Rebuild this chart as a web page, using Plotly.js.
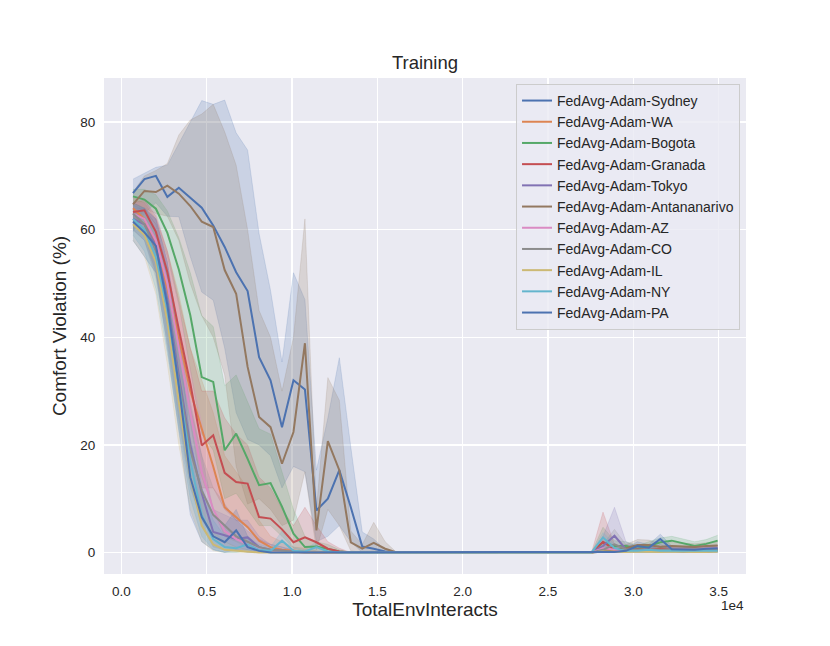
<!DOCTYPE html>
<html>
<head>
<meta charset="utf-8">
<script src="https://cdn.plot.ly/plotly-3.0.1.min.js"></script>
<style>html,body{margin:0;padding:0;background:#fff;}#chart{width:830px;height:646px;}</style>
</head>
<body>
<div id="chart"></div>
<script>
// x positions (TotalEnvInteracts)
var steps = [672,1344,2016,2688,3360,4032,4704,5376,6048,6720,7392,8064,8736,9408,10080,10752,11424,12096,12768,13440,14112,14784,15456,16128,16800,17472,18144,18816,19488,20160,20832,21504,22176,22848,23520,24192,24864,25536,26208,26880,27552,28224,28896,29568,30240,30912,31584,32256,32928,33600,34272,34944];

var seriesNames = ["FedAvg-Adam-Sydney","FedAvg-Adam-WA","FedAvg-Adam-Bogota","FedAvg-Adam-Granada","FedAvg-Adam-Tokyo","FedAvg-Adam-Antananarivo","FedAvg-Adam-AZ","FedAvg-Adam-CO","FedAvg-Adam-IL","FedAvg-Adam-NY","FedAvg-Adam-PA"];
var seriesColors = ["#4C72B0","#DD8452","#55A868","#C44E52","#8172B3","#937860","#DA8BC3","#8C8C8C","#CCB974","#64B5CD","#4C72B0"];

// Sydney
var sydneyMean  = [66.8,69.4,70.0,66.1,67.8,66.0,64.1,60.8,56.8,52.1,48.6,36.3,32.0,23.3,32.0,30.3,7.8,10.0,15.3,8.4,1.1,0.7,0.2,0, 0,0,0,0,0,0,0,0,0,0,0,0,0,0,0,0, 0,0.2,0.3,0.6,0.3,0.4,0.5,0.3,0.2,0.3,0.2,0.3];
var sydneyLow   = [59.6,63.0,65.0,62.5,62.4,55.0,48.4,46.9,38.0,26.0,21.0,20.0,18.0,12.0,16.0,15.0,2.0,3.0,5.0,2.0,0,0,0,0, 0,0,0,0,0,0,0,0,0,0,0,0,0,0,0,0, 0,0,0,0.1,0,0,0.1,0,0,0,0,0];
var sydneyHigh  = [69.4,70.5,71.6,72.0,76.0,80.0,84.0,83.3,84.1,78.0,74.8,59.3,48.7,35.4,52.0,47.0,15.3,25.0,36.2,19.6,3.8,2.5,0.5,0, 0,0,0,0,0,0,0,0,0,0,0,0,0,0,0,0, 0,0.5,0.8,1.4,0.8,0.9,1.2,0.8,0.5,0.7,0.5,0.7];
// WA
var waMean  = [64.0,62.0,57.0,49.0,40.0,30.0,23.0,16.0,8.4,6.6,4.7,2.2,1.0,0.5,0.3,0.2,0,0,0,0,0,0,0,0, 0,0,0,0,0,0,0,0,0,0,0,0,0,0,0,0, 0,0.6,0.3,0.3,0.4,0.3,0.4,0.3,0.3,0.4,0.4,0.5];
var waLow   = [62.0,59.0,52.0,42.0,32.0,21.0,14.0,8.0,3.0,2.0,1.0,0.3,0,0,0,0,0,0,0,0,0,0,0,0, 0,0,0,0,0,0,0,0,0,0,0,0,0,0,0,0, 0,0.1,0,0,0.1,0,0.1,0,0,0.1,0.1,0.1];
var waHigh  = [66.0,65.0,62.0,56.0,48.0,38.0,32.0,26.0,18.0,15.0,12.0,6.0,3.0,2.0,1.0,0.8,0.3,0,0,0,0,0,0,0, 0,0,0,0,0,0,0,0,0,0,0,0,0,0,0,0, 0,1.5,0.8,0.7,0.8,0.7,0.8,0.7,0.7,0.8,0.8,0.9];
// Bogota
var bogotaMean  = [66.2,65.6,63.9,59.4,52.6,44.1,32.6,31.7,19.0,22.1,17.4,12.5,12.9,8.5,3.5,1.0,1.1,0.7,0.2,0,0,0,0,0, 0,0,0,0,0,0,0,0,0,0,0,0,0,0,0,0, 0,1.9,1.2,1.2,0.7,1.2,1.9,2.2,1.7,1.2,1.6,2.2];
var bogotaLow   = [64.5,63.5,61.0,55.0,46.0,34.0,22.0,19.0,10.0,11.0,8.0,5.0,5.0,3.0,0.8,0.2,0.2,0,0,0,0,0,0,0, 0,0,0,0,0,0,0,0,0,0,0,0,0,0,0,0, 0,0.5,0.5,0.5,0.3,0.6,1.0,1.3,1.0,0.6,0.9,1.3];
var bogotaHigh  = [67.5,67.5,66.5,63.5,58.5,52.0,44.0,42.0,31.0,33.0,28.0,23.0,22.0,15.0,8.0,3.0,2.0,1.5,0.5,0,0,0,0,0, 0,0,0,0,0,0,0,0,0,0,0,0,0,0,0,0, 0,4.7,2.2,2.0,1.3,2.0,2.7,3.0,2.5,2.0,2.4,3.2];
// Granada
var granadaMean = [63.3,63.6,59.6,52.1,41.5,31.4,19.9,21.8,14.8,13.1,12.8,6.6,6.3,4.3,1.9,2.8,1.9,0.7,0.2,0,0,0,0,0, 0,0,0,0,0,0,0,0,0,0,0,0,0,0,0,0, 0,2.0,0.5,0.4,0.6,0.5,0.7,0.6,0.5,0.5,0.6,0.7];
var granadaLow  = [61.0,62.0,56.0,47.0,35.0,24.0,12.0,12.0,8.0,6.0,5.0,2.0,1.5,1.0,0,0.5,0,0,0,0,0,0,0,0, 0,0,0,0,0,0,0,0,0,0,0,0,0,0,0,0, 0,0,0.1,0.1,0.2,0.2,0.3,0.2,0.2,0.2,0.2,0.3];
var granadaHigh = [65.0,65.5,62.5,56.0,47.0,38.0,30.0,30.0,25.0,22.0,20.0,14.0,12.0,8.0,5.0,8.4,5.0,2.0,0.8,0,0,0,0,0, 0,0,0,0,0,0,0,0,0,0,0,0,0,0,0,0, 0,7.5,1.5,1.0,1.2,1.0,1.3,1.1,1.0,1.0,1.1,1.3];
// Tokyo
var tokyoMean = [62.0,61.0,57.0,47.0,33.0,20.0,11.0,3.8,3.2,2.5,2.8,1.0,0.5,0.3,0.2,0,0,0,0,0,0,0,0,0, 0,0,0,0,0,0,0,0,0,0,0,0,0,0,0,0, 0,1.2,3.1,0.6,0.4,0.5,0.4,0.6,0.5,0.5,0.4,0.5];
var tokyoLow  = [60.0,58.0,52.0,40.0,25.0,13.0,5.0,1.0,0.5,0.5,0.5,0,0,0,0,0,0,0,0,0,0,0,0,0, 0,0,0,0,0,0,0,0,0,0,0,0,0,0,0,0, 0,0.2,0.5,0.1,0.1,0.1,0.1,0.2,0.1,0.1,0.1,0.1];
var tokyoHigh = [64.0,64.0,62.0,54.0,41.0,28.0,18.0,8.0,7.0,6.0,6.0,3.0,1.5,1.0,0.5,0,0,0,0,0,0,0,0,0, 0,0,0,0,0,0,0,0,0,0,0,0,0,0,0,0, 0,3.0,8.4,2.0,1.0,1.0,0.8,1.2,1.0,1.0,0.8,1.0];
// Antananarivo
var antaMean = [64.7,67.2,67.0,68.2,66.7,64.4,61.5,60.5,52.5,48.1,34.5,25.2,23.3,16.5,22.4,38.9,4.1,20.7,15.3,1.9,0.7,1.8,0.7,0, 0,0,0,0,0,0,0,0,0,0,0,0,0,0,0,0, 0,0.3,0.5,0.8,1.4,1.4,1.0,1.2,1.1,1.0,1.2,1.3];
var antaLow  = [60.0,64.0,63.0,62.5,58.0,50.0,44.0,40.0,33.0,16.0,9.0,10.0,8.0,5.0,6.0,15.0,0.5,8.0,5.0,0.3,0,0.3,0,0, 0,0,0,0,0,0,0,0,0,0,0,0,0,0,0,0, 0,0,0.1,0.3,0.6,0.7,0.5,0.6,0.5,0.5,0.6,0.6];
var antaHigh = [67.0,70.0,71.0,72.3,77.6,80.4,81.5,83.3,78.2,72.0,60.0,45.0,40.0,30.0,40.0,62.0,8.0,32.5,28.3,4.0,1.5,5.6,2.0,0, 0,0,0,0,0,0,0,0,0,0,0,0,0,0,0,0, 0,0.8,1.0,1.5,2.4,2.3,1.6,1.9,1.8,1.6,1.8,2.0];
// AZ
var azMean = [63.0,62.0,58.0,50.0,38.0,26.0,15.0,8.0,4.0,2.5,1.5,0.8,0.3,0.2,0,0,0,0,0,0,0,0,0,0, 0,0,0,0,0,0,0,0,0,0,0,0,0,0,0,0, 0,0.8,0.5,0.3,0.4,0.5,0.4,0.5,0.6,0.6,0.7,0.8];
var azLow  = [61.0,59.0,53.0,43.0,30.0,18.0,8.0,3.0,1.0,0.5,0.2,0,0,0,0,0,0,0,0,0,0,0,0,0, 0,0,0,0,0,0,0,0,0,0,0,0,0,0,0,0, 0,0.1,0.1,0.1,0.1,0.1,0.1,0.1,0.2,0.2,0.2,0.3];
var azHigh = [65.0,65.0,63.0,56.0,46.0,34.0,24.0,15.0,9.0,6.0,4.0,2.5,1.5,1.0,0.5,0,0,0,0,0,0,0,0,0, 0,0,0,0,0,0,0,0,0,0,0,0,0,0,0,0, 0,2.0,1.2,0.8,0.9,1.0,0.9,1.0,1.1,1.2,1.3,1.4];
// CO
var coMean = [63.0,61.0,56.0,46.0,32.0,19.0,11.5,7.0,5.0,3.0,2.0,1.0,0.5,0.3,0.1,0,0,0,0,0,0,0,0,0, 0,0,0,0,0,0,0,0,0,0,0,0,0,0,0,0, 0,0.5,1.5,0.6,0.5,0.6,0.5,0.6,0.5,0.6,0.5,0.6];
var coLow  = [60.0,58.0,51.0,39.0,24.0,12.0,6.0,3.0,2.0,1.0,0.5,0.2,0,0,0,0,0,0,0,0,0,0,0,0, 0,0,0,0,0,0,0,0,0,0,0,0,0,0,0,0, 0,0.1,0.3,0.1,0.1,0.1,0.1,0.1,0.1,0.1,0.1,0.1];
var coHigh = [65.0,64.0,61.0,53.0,40.0,27.0,18.0,12.0,9.0,6.0,4.0,2.5,1.5,1.0,0.5,0,0,0,0,0,0,0,0,0, 0,0,0,0,0,0,0,0,0,0,0,0,0,0,0,0, 0,1.5,4.3,1.5,1.2,1.5,1.2,1.3,1.2,1.3,1.2,1.3];
// IL
var ilMean = [61.0,59.0,54.0,43.0,28.0,14.0,5.0,1.5,0.5,0.3,0.2,0,0,0,0,0,0,0,0,0,0,0,0,0, 0,0,0,0,0,0,0,0,0,0,0,0,0,0,0,0, 0,0.2,0.1,0.1,0.2,0.1,0.1,0.2,0.1,0.1,0.1,0.2];
var ilLow  = [58.0,55.0,48.0,35.0,20.0,8.0,2.0,0.3,0,0,0,0,0,0,0,0,0,0,0,0,0,0,0,0, 0,0,0,0,0,0,0,0,0,0,0,0,0,0,0,0, 0,0,0,0,0,0,0,0,0,0,0,0];
var ilHigh = [64.0,63.0,59.0,50.0,36.0,21.0,10.0,4.0,2.0,1.0,0.5,0,0,0,0,0,0,0,0,0,0,0,0,0, 0,0,0,0,0,0,0,0,0,0,0,0,0,0,0,0, 0,0.5,0.3,0.3,0.5,0.3,0.3,0.5,0.3,0.3,0.3,0.5];
// NY
var nyMean = [62.0,60.0,55.0,45.0,31.0,17.0,7.0,2.5,1.0,0.8,1.5,0.5,0.3,2.2,0.3,0.2,1.0,0.2,0,0,0,0,0,0, 0,0,0,0,0,0,0,0,0,0,0,0,0,0,0,0, 0,2.8,0.8,0.3,0.3,0.5,0.3,0.3,0.3,0.3,0.3,0.3];
var nyLow  = [59.0,56.0,49.0,37.0,23.0,10.0,3.0,0.5,0,0,0.3,0,0,0.5,0,0,0.2,0,0,0,0,0,0,0, 0,0,0,0,0,0,0,0,0,0,0,0,0,0,0,0, 0,0.8,0.2,0,0,0.1,0,0,0,0,0,0];
var nyHigh = [64.5,64.0,60.0,52.0,39.0,25.0,12.0,6.0,3.0,2.5,3.0,1.5,1.0,4.0,1.0,0.5,2.0,0.5,0,0,0,0,0,0, 0,0,0,0,0,0,0,0,0,0,0,0,0,0,0,0, 0,3.7,1.5,0.6,0.6,1.0,0.6,0.6,0.6,0.6,0.6,0.6];
// PA
var paMean = [61.5,59.5,57.0,46.0,31.0,14.0,6.6,3.0,1.9,4.1,1.0,0.3,0,0,0,0,0,0,0,0,0,0,0,0, 0,0,0,0,0,0,0,0,0,0,0,0,0,0,0,0, 0,0,0.1,0.3,1.2,0.9,2.5,0.6,0.5,0.5,0.7,0.8];
var paLow  = [58.0,55.0,52.0,38.0,23.0,7.0,2.0,0.5,0,0.5,0,0,0,0,0,0,0,0,0,0,0,0,0,0, 0,0,0,0,0,0,0,0,0,0,0,0,0,0,0,0, 0,0,0,0,0.4,0.3,1.5,0.2,0.1,0.1,0.2,0.3];
var paHigh = [65.0,64.0,62.0,54.0,40.0,21.0,12.0,7.0,5.0,8.0,3.0,1.0,0.5,0,0,0,0,0,0,0,0,0,0,0, 0,0,0,0,0,0,0,0,0,0,0,0,0,0,0,0, 0,0.3,0.5,0.8,2.0,1.5,3.4,1.2,1.0,1.0,1.2,1.3];

var xTickVals = [0,5000,10000,15000,20000,25000,30000,35000];
var xTickText = ["0.0","0.5","1.0","1.5","2.0","2.5","3.0","3.5"];
var yTickVals = [0,20,40,60,80];
var yTickText = ["0","20","40","60","80"];

var means = [sydneyMean,waMean,bogotaMean,granadaMean,tokyoMean,antaMean,azMean,coMean,ilMean,nyMean,paMean];
var lows  = [sydneyLow,waLow,bogotaLow,granadaLow,tokyoLow,antaLow,azLow,coLow,ilLow,nyLow,paLow];
var highs = [sydneyHigh,waHigh,bogotaHigh,granadaHigh,tokyoHigh,antaHigh,azHigh,coHigh,ilHigh,nyHigh,paHigh];

function rgba(hex, a){
  var r=parseInt(hex.substr(1,2),16), g=parseInt(hex.substr(3,2),16), b=parseInt(hex.substr(5,2),16);
  return 'rgba('+r+','+g+','+b+','+a+')';
}

var traces = [];
// bands first (below all lines)
for (var i=0;i<seriesNames.length;i++){
  traces.push({x:steps, y:lows[i], type:'scatter', mode:'lines', showlegend:false, hoverinfo:'skip',
    line:{color:rgba(seriesColors[i],0.22), width:0.8}});
  traces.push({x:steps, y:highs[i], type:'scatter', mode:'lines', showlegend:false, hoverinfo:'skip',
    fill:'tonexty', fillcolor:rgba(seriesColors[i],0.2),
    line:{color:rgba(seriesColors[i],0.22), width:0.8}});
}
for (var j=0;j<seriesNames.length;j++){
  traces.push({x:steps, y:means[j], type:'scatter', mode:'lines', name:seriesNames[j],
    line:{color:seriesColors[j], width:2}});
}

var layout = {
  width:830, height:646,
  margin:{l:104, r:84, t:78, b:72, pad:0},
  paper_bgcolor:'#ffffff', plot_bgcolor:'#EAEAF2',
  font:{family:'"Liberation Sans", Arial, sans-serif', color:'#262626', size:13.5},
  title:{text:'Training', font:{size:18.5, color:'#262626'}, x:0.512, xanchor:'center', y:0.9025, yanchor:'middle'},
  xaxis:{range:[-1026,36606], tickvals:xTickVals, ticktext:xTickText, showgrid:true, gridcolor:'#ffffff', gridwidth:1.3,
    zeroline:false, showline:false, ticks:'outside', ticklen:5, tickcolor:'rgba(0,0,0,0)', tickfont:{size:13.5},
    title:{text:'TotalEnvInteracts', font:{size:19}, standoff:4}},
  yaxis:{range:[-4.0,88.2], tickvals:yTickVals, ticktext:yTickText, showgrid:true, gridcolor:'#ffffff', gridwidth:1.3,
    zeroline:false, showline:false, ticks:'outside', ticklen:5, tickcolor:'rgba(0,0,0,0)', tickfont:{size:13.5},
    title:{text:'Comfort Violation (%)', font:{size:19}, standoff:8}},
  legend:{x:0.9907, xanchor:'right', y:0.988, yanchor:'top', traceorder:'normal', bgcolor:'rgba(234,234,242,0.8)', bordercolor:'#cccccc', borderwidth:1,
    font:{size:14, color:'#262626'}},
  annotations:[{text:'1e4', xref:'paper', yref:'paper', x:1.0, xanchor:'right', y:-0.0636, yanchor:'middle', showarrow:false, font:{size:13.5, color:'#262626'}}],
  showlegend:true
};

Plotly.newPlot('chart', traces, layout, {displayModeBar:false, staticPlot:true});
</script>
</body>
</html>
